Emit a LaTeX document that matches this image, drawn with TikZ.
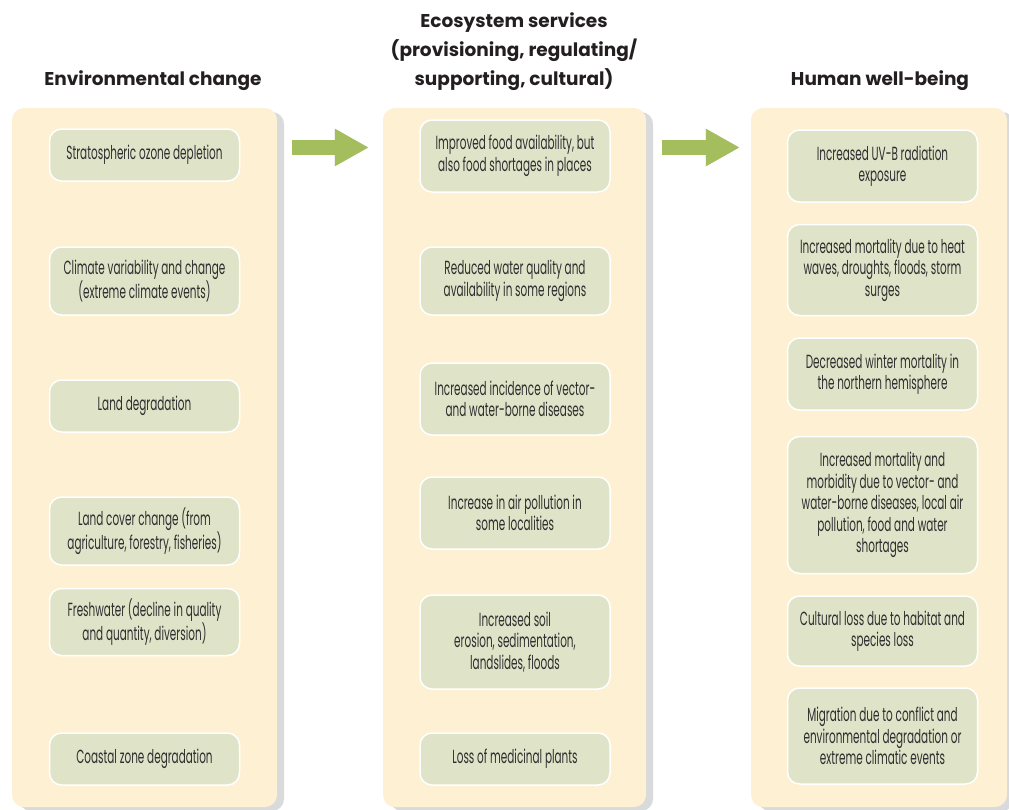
\documentclass[tikz,border=0pt]{standalone}
\usepackage{fontspec}
\setmainfont{Poppins}
\newfontfamily\boxfont[FakeStretch=0.55]{Poppins}
\usepackage{xcolor}
\definecolor{panelfill}{HTML}{FEF0D3}
\definecolor{boxfill}{HTML}{DFE4C9}
\definecolor{arrowgreen}{HTML}{A4BE5E}
\definecolor{shadowgray}{HTML}{D9DADC}
\definecolor{ink}{HTML}{231F20}
\definecolor{boxink}{HTML}{2E2E2E}
\usetikzlibrary{calc,arrows.meta,positioning,shadows}

\begin{document}
\begin{tikzpicture}[x=1pt, y=-1pt,
	panel/.style={fill=panelfill, rounded corners=12pt, minimum width=#1, minimum height=699pt,
		drop shadow={shadow xshift=7pt, shadow yshift=-4pt, fill=shadowgray, opacity=1}},
	itembox/.style={fill=boxfill, draw=white, line width=1.5pt, rounded corners=12pt,
		minimum width=190pt, minimum height=#1, align=center, text=boxink, inner sep=2pt,
		font=\boxfont\fontsize{19}{21.5}\selectfont},
	header/.style={text=ink, align=center, font=\bfseries\fontsize{18.5}{29}\selectfont},
	greenarrow/.style={draw=arrowgreen, line width=15pt, -{Triangle[length=34pt, width=35pt]}},
	arrowshadow/.style={draw=shadowgray, line width=15pt, -{Triangle[length=34pt, width=35pt]}}]

	\useasboundingbox (0,0) rectangle (1009,809);

	% ================= column headers =================
	\node[header] (envhead) at (153,81) {Environmental change};
	\node[header] (ecohead) at (514,52) {Ecosystem services\\(provisioning, regulating/\\supporting, cultural)};
	\node[header] (hwhead) at (880,81) {Human well-being};

	% ================= the three panels =================
	\node[panel=265pt] (envpanel) at (144.5,457.5) {};
	\node[panel=263pt] (ecopanel) at (514.5,457.5) {};
	\node[panel=256pt] (hwpanel) at (879,457.5) {};

	% environmental change
	\node[itembox=52pt] (e1) at (144.5,155) {Stratospheric ozone depletion};
	\node[itembox=68pt] (e2) at (144.5,281) {Climate variability and change\\(extreme climate events)};
	\node[itembox=52pt] (e3) at (144.5,406) {Land degradation};
	\node[itembox=68pt] (e4) at (144.5,531) {Land cover change (from\\agriculture, forestry, fisheries)};
	\node[itembox=67pt] (e5) at (144.5,622) {Freshwater (decline in quality\\and quantity, diversion)};
	\node[itembox=52pt] (e6) at (144.5,759) {Coastal zone degradation};

	% ecosystem services
	\node[itembox=72pt] (s1) at (515,156) {Improved food availability, but\\also food shortages in places};
	\node[itembox=68pt] (s2) at (515,281) {Reduced water quality and\\availability in some regions};
	\node[itembox=72pt] (s3) at (515,399) {Increased incidence of vector-\\and water-borne diseases};
	\node[itembox=72pt] (s4) at (515,513) {Increase in air pollution in\\some localities};
	\node[itembox=94pt] (s5) at (515,642) {Increased soil\\erosion, sedimentation,\\landslides, floods};
	\node[itembox=52pt] (s6) at (515,759) {Loss of medicinal plants};

	% human well-being
	\node[itembox=72pt] (h1) at (882.5,166) {Increased UV-B radiation\\exposure};
	\node[itembox=91pt] (h2) at (882.5,270) {Increased mortality due to heat\\waves, droughts, floods, storm\\surges};
	\node[itembox=72pt] (h3) at (882.5,374) {Decreased winter mortality in\\the northern hemisphere};
	\node[itembox=137pt] (h4) at (882.5,505) {Increased mortality and\\morbidity due to vector- and\\water-borne diseases, local air\\pollution, food and water\\shortages};
	\node[itembox=70pt] (h5) at (882.5,631) {Cultural loss due to habitat and\\species loss};
	\node[itembox=96pt] (h6) at (882.5,736) {Migration due to conflict and\\environmental degradation or\\extreme climatic events};

	% ================= block arrows between panels =================
	\coordinate (a1s) at ($(envpanel.east |- e1)+(15,-7.5)$);
	\coordinate (a1e) at ($(ecopanel.west |- e1)+(-14,-7.5)$);
	\coordinate (a2s) at ($(ecopanel.east |- e1)+(16,-7.5)$);
	\coordinate (a2e) at ($(hwpanel.west |- e1)+(-11,-7.5)$);

	\draw[arrowshadow, xshift=6pt, yshift=-6pt] (a1s) -- (a1e);
	\draw[arrowshadow, xshift=6pt, yshift=-6pt] (a2s) -- (a2e);
	\draw[greenarrow] (a1s) -- (a1e);
	\draw[greenarrow] (a2s) -- (a2e);

\end{tikzpicture}
\end{document}
